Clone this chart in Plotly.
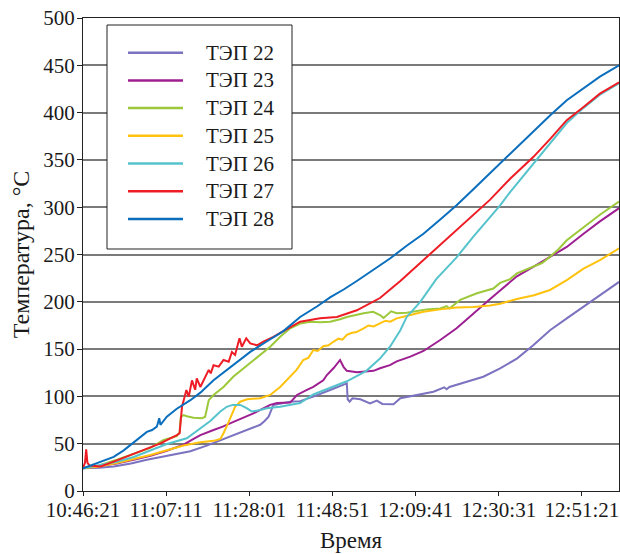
import plotly.graph_objects as go

# elapsed time in minutes from 10:46:21
t22 = [0, 4, 7.7, 12, 16, 21, 26.9, 31, 35.2, 38, 41.1, 44.4, 45.5, 46.5, 47.7, 49.4, 51.9, 54.4, 57.7,
       61.9, 65.3, 66.1, 66.3, 66.8, 67.5, 69.5, 71.9, 73.6, 75, 76.1, 77.8, 79.5, 83.6, 87.8, 90.5, 91.1,
       91.8, 96.1, 100.3, 104.5, 108.7, 112.8, 117, 121.2, 125.4, 129.5, 134.3]
y22 = [24, 24.5, 26, 29, 33, 37, 42, 48, 55, 59, 64.5, 70, 74, 78.5, 91, 92.7, 94.4, 95, 99.7,
       106.8, 112, 113.8, 97, 94.5, 98, 97, 92.7, 95.5, 92, 91.6, 91.6, 98, 101.5, 105, 109.6, 107.5,
       110, 115.5, 120.8, 129.7, 140, 154, 170, 182.5, 195, 207, 221]

t23 = [0, 4, 8.5, 12.7, 16.9, 21, 25.2, 27.7, 29.4, 32.7, 35, 37.7, 40, 42.7, 46.9, 48.6, 51.9, 53.6,
       56.1, 57.7, 60.2, 61.1, 62.8, 64.4, 65.3, 66.1, 68.6, 71.1, 72.8, 74.4, 76.9, 78.6, 82, 85.3,
       89.5, 93.6, 97.8, 102, 104.5, 108.7, 112.8, 117, 121.2, 125.4, 129.5, 134.3]
y23 = [24, 26, 29, 33, 37.3, 42.6, 49, 55, 59, 64.5, 68, 73, 77, 82, 91, 93, 93.5, 101.5,
       106.8, 110, 117, 122.6, 130, 138.5, 131, 127, 125.5, 126, 127, 129.7, 133, 137, 142, 148,
       159.6, 172, 187, 203, 212, 227, 237, 247.7, 258, 272, 285, 299]

t24 = [0, 4, 8.5, 12.7, 16.9, 20.2, 23.5, 24.2, 24.5, 25.2, 26, 27.7, 29.8, 30.6, 31.5, 32.7, 35.2, 37.7,
       41.1, 44.4, 46.9, 49.4, 51.9, 54.4, 56.9, 59.4, 61.9, 64.4, 66.1, 70.3, 72.7, 74.4, 75.3, 77.2,
       78.6, 81.1, 86.1, 89.5, 91.1, 91.8, 94.5, 98.7, 102.8, 104.5, 107, 108.7, 112.8, 115, 117, 119,
       121.2, 125.4, 129.5, 134.3]
y24 = [24, 27, 33, 39, 45.5, 54, 58, 62, 78, 80.3, 79, 77.5, 76.8, 78.5, 96, 101.5, 110, 121,
       133, 144, 152.5, 163, 172, 177, 179, 178.3, 179, 181.5, 184, 188, 189.5, 186, 183, 190,
       188, 188.5, 192, 193, 195.5, 193, 202, 209, 214, 220, 224, 230, 237, 241, 247.7, 255,
       265, 279, 292, 306]

t25 = [0, 4, 8.5, 12.7, 16.9, 21, 25.2, 29.4, 32.7, 34.4, 35.2, 36.5, 38.1, 39.4, 41.1, 44.4, 46.9, 49.4,
       51.9, 53.5, 55.2, 56.5, 57.7, 58.8, 60.2, 61.5, 62.8, 64, 65, 66.1, 67.2, 68.5, 70.3, 71.5, 72.8,
       74.4, 75.8, 77, 78.6, 81, 85.3, 89.5, 93.6, 97.8, 102, 104.5, 108.7, 113, 117, 121.2, 125.4,
       129.5, 134.3]
y25 = [24, 26, 29.5, 33.5, 38, 43, 48, 51.5, 53, 55, 61, 73, 89, 94.4, 97, 98, 101.5, 110,
       121, 128, 138.5, 141, 149, 148, 153, 154, 158, 161, 160, 165, 167, 168, 172, 175, 174,
       177, 180, 179, 182.5, 185, 189.5, 192, 194, 194.5, 196, 198, 203, 207, 212.5, 223, 235,
       244, 256.5]

t26 = [0, 4, 8.5, 12.7, 16.9, 21, 26, 29.4, 31.9, 34.4, 36, 37.5, 39.4, 41.1, 42.3, 44.4, 46, 49.4,
       51.9, 54.4, 57.7, 62, 66.1, 71, 74.4, 77, 79.5, 81.1, 84.5, 88.5, 93.6, 97.8, 102, 104.5, 107,
       112.8, 117, 121.2, 125.4, 129.5, 134.3]
y26 = [24, 27, 31, 36, 43, 49.7, 55.7, 66, 74, 84, 89, 91, 91, 87.4, 84, 85.6, 87.5, 89,
       91, 93, 102, 109, 116, 127, 140, 153, 170, 184, 200, 224, 247, 269, 290, 302, 316,
       346, 368, 389, 405, 419, 431]

t27 = [0, 0.5, 0.8, 1.1, 1.6, 4.4, 7.7, 11.8, 16, 19.4, 23.5, 24.2, 24.8, 25.3, 25.9, 26.5, 27.3, 28.1,
       28.5, 29.4, 30.6, 31.5, 32.0, 32.7, 34.0, 35.2, 36.5, 37.3, 38.1, 39.2, 39.8, 40.9, 41.9, 43.6,
       45.2, 47.7, 50.2, 54.4, 59.4, 63.6, 68.6, 74.4, 79.5, 85.3, 93.6, 102, 107, 112.8, 117, 121.2,
       125.4, 129.5, 134.3]
y27 = [24, 30, 44, 30, 27, 26, 31, 38, 45, 50.4, 59, 61, 89, 96, 106.8, 99.7, 117, 107,
       119, 110, 121, 128, 124.4, 133, 131.4, 138.5, 136.7, 147, 143.8, 161.4, 152.5, 161.4, 156, 154,
       158, 163, 169, 179, 182.5, 184, 191, 204, 222, 244, 276, 308, 330, 353, 372, 392,
       406, 420, 432]

t28 = [0, 2, 4.3, 7.7, 10.2, 13.5, 16, 17.3, 18.5, 19.1, 19.4, 21, 23.5, 26.9, 29.4, 32.7, 37.7, 41.9,
       46, 50.2, 54.4, 58.6, 62, 65.3, 68.6, 72.8, 77, 81, 85.3, 89.5, 93.6, 97.8, 102, 107, 112.8,
       117, 121.2, 125.4, 129.5, 134.3]
y28 = [24, 27, 31, 36, 43, 54, 62.5, 64.5, 68, 77, 70, 78.5, 87, 96, 104, 117, 133, 147,
       158, 169, 184, 195, 205, 213, 222, 234, 246, 259, 272, 287, 302, 319, 336, 357, 380,
       397, 413, 426, 438, 450]

names = ["ТЭП 22", "ТЭП 23", "ТЭП 24", "ТЭП 25", "ТЭП 26", "ТЭП 27", "ТЭП 28"]
colors = ["#7B72C0", "#9E1F91", "#9CC83A", "#FFC20E", "#56C3CC", "#EE1C25", "#0A6EBD"]

tick_labels = ["10:46:21", "11:07:11", "11:28:01", "11:48:51", "12:09:41", "12:30:31", "12:51:21"]
tick_minutes = [i * 1250 / 60 for i in range(len(tick_labels))]

series = [(t22, y22), (t23, y23), (t24, y24), (t25, y25), (t26, y26), (t27, y27), (t28, y28)]

W, H = 620, 554
ML, MR, MT, MB = 83, 1, 18, 63
PW, PH = W - ML - MR, H - MT - MB


def px(x):  # pixel -> paper x
    return (x - ML) / PW


def py(y):  # pixel -> paper y
    return (H - MB - y) / PH


FAM = '"Liberation Serif", "Times New Roman", serif'
TXT = "#1a1a1a"
font = dict(family=FAM, size=20, color=TXT)

fig = go.Figure()
for (tx, ty), nm, col in zip(series, names, colors):
    fig.add_trace(go.Scatter(x=tx, y=ty, mode="lines", name=nm,
                             line=dict(color=col, width=2), showlegend=False))

# legend box drawn in paper coordinates
shapes = [dict(type="rect", xref="paper", yref="paper",
               x0=px(107), x1=px(292), y0=py(249), y1=py(25),
               line=dict(color="#222", width=1), fillcolor="white", layer="above")]
annotations = []
for i, (nm, col) in enumerate(zip(names, colors)):
    yy = 52.7 + 27.7 * i
    shapes.append(dict(type="line", xref="paper", yref="paper",
                       x0=px(128), x1=px(183), y0=py(yy), y1=py(yy),
                       line=dict(color=col, width=2.5), layer="above"))
    annotations.append(dict(xref="paper", yref="paper", x=px(204), y=py(yy),
                            xanchor="left", yanchor="middle", text=nm, showarrow=False,
                            font=dict(family=FAM, size=21, color=TXT)))

fig.update_layout(
    width=W, height=H,
    margin=dict(l=ML, r=MR, t=MT, b=MB, autoexpand=False),
    paper_bgcolor="white", plot_bgcolor="white",
    font=font, showlegend=False,
    shapes=shapes, annotations=annotations,
)
fig.update_xaxes(
    range=[0, 8057 / 60], tickvals=tick_minutes, ticktext=tick_labels,
    showline=True, linecolor="#222", linewidth=1, mirror=True, automargin=False,
    ticks="outside", ticklen=4, tickcolor="#222", ticklabelstandoff=-4,
    tickfont=dict(family=FAM, size=21, color=TXT),
    showgrid=False, zeroline=False,
    title=dict(text="Время", standoff=10, font=dict(family=FAM, size=23, color=TXT)),
)
fig.update_yaxes(
    range=[0, 500], dtick=50, automargin=False,
    showline=True, linecolor="#222", linewidth=1, mirror=True,
    ticks="outside", ticklen=5, tickcolor="#222", ticklabelstandoff=-2,
    tickfont=dict(family=FAM, size=21, color=TXT),
    showgrid=True, gridcolor="#7a7a7a", gridwidth=1.5, zeroline=False,
    title=dict(text="Температура, °C", standoff=6, font=dict(family=FAM, size=24, color=TXT)),
)

fig.write_html("out.html", config={"displayModeBar": False},
               post_script="document.body.style.margin='0';document.body.style.overflow='hidden';")
